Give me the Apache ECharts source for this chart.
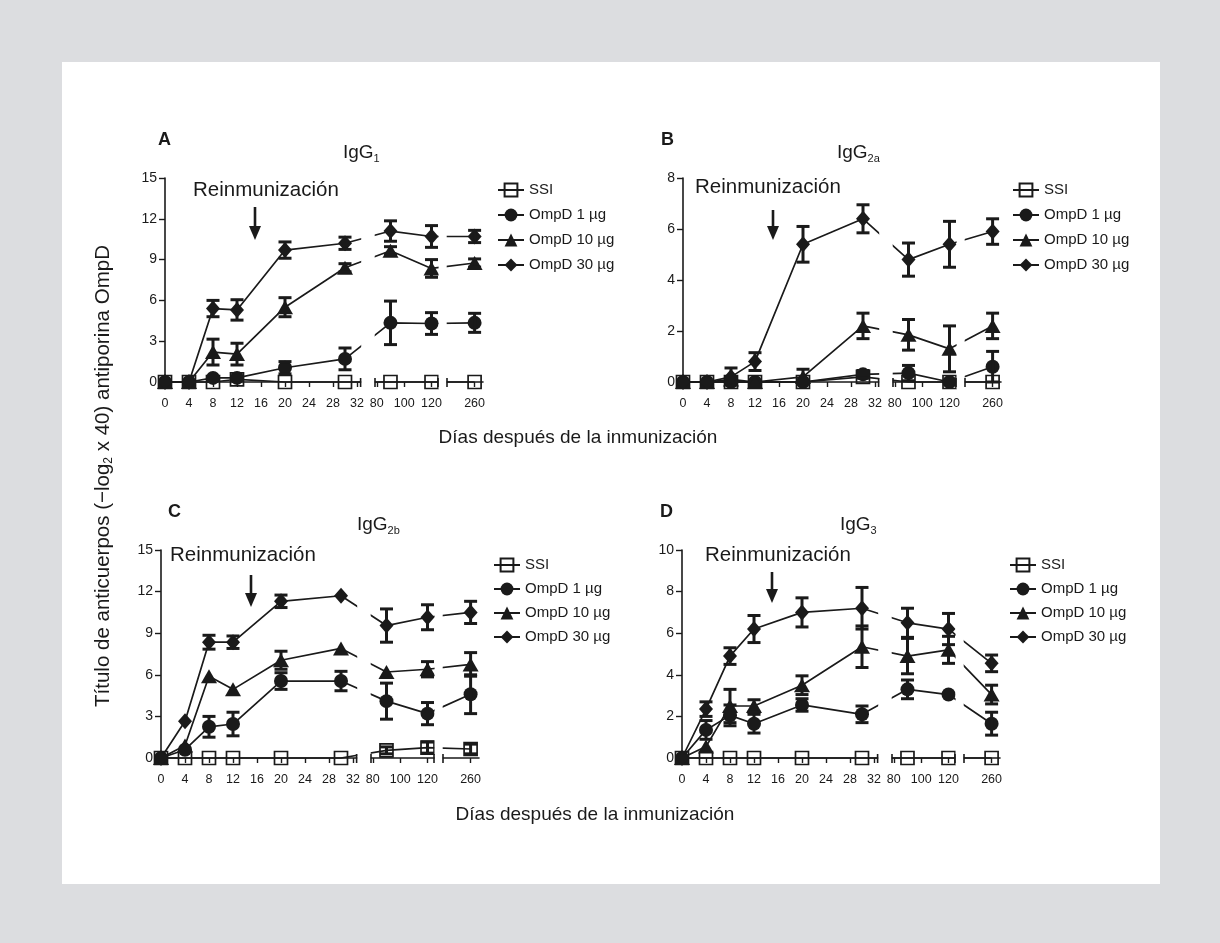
<!DOCTYPE html>
<html><head><meta charset="utf-8">
<script src="https://cdn.jsdelivr.net/npm/echarts@6/dist/echarts.min.js"></script>
<style>
html,body{margin:0;padding:0;background:#dcdde0;width:1220px;height:943px;overflow:hidden;}
#bg{position:absolute;left:62px;top:62px;width:1098px;height:822px;background:#fff;}
#c{position:absolute;left:0;top:0;width:1220px;height:943px;}
</style></head><body>
<div id="bg"></div><div id="c"></div>
<script>
// ---------- data ----------
const days = [0, 4, 8, 12, 20, 30, 90, 120, 260];
const xTickDays = [0, 4, 8, 12, 16, 20, 24, 28, 32, 80, 100, 120, 260];
const seriesNames = ['SSI', 'OmpD 1 µg', 'OmpD 10 µg', 'OmpD 30 µg'];
const yTicksA = [0, 3, 6, 9, 12, 15];
const yTicksB = [0, 2, 4, 6, 8];
const yTicksC = [0, 3, 6, 9, 12, 15];
const yTicksD = [0, 2, 4, 6, 8, 10];

// Panel A (IgG1)
const A_SSI = [0, 0, 0, 0.2, 0, 0, 0, 0, 0];
const A_SSI_err = [0, 0, 0, 0, 0, 0, 0, 0, 0];
const A_1 = [0, 0, 0.3, 0.3, 1.05, 1.7, 4.35, 4.3, 4.35];
const A_1_err = [0, 0, 0, 0, 0.45, 0.8, 1.6, 0.8, 0.7];
const A_10 = [0, 0, 2.2, 2.05, 5.5, 8.4, 9.65, 8.35, 8.75];
const A_10_err = [0, 0, 0.95, 0.8, 0.7, 0.3, 0.3, 0.65, 0.3];
const A_30 = [0, 0, 5.4, 5.3, 9.7, 10.2, 11.1, 10.7, 10.7];
const A_30_err = [0, 0, 0.6, 0.75, 0.6, 0.45, 0.75, 0.8, 0.45];

// Panel B (IgG2a)
const B_SSI = [0, 0, 0, 0, 0, 0.2, 0, 0, 0];
const B_SSI_err = [0, 0, 0, 0, 0, 0, 0, 0, 0];
const B_1 = [0, 0, 0, 0, 0, 0.3, 0.35, 0, 0.6];
const B_1_err = [0, 0, 0, 0, 0, 0.15, 0.3, 0, 0.6];
const B_10 = [0, 0, 0.1, 0, 0.2, 2.2, 1.85, 1.3, 2.2];
const B_10_err = [0, 0, 0, 0, 0.3, 0.5, 0.6, 0.9, 0.5];
const B_30 = [0, 0, 0.2, 0.8, 5.4, 6.4, 4.8, 5.4, 5.9];
const B_30_err = [0, 0, 0.35, 0.35, 0.7, 0.55, 0.65, 0.9, 0.5];

// Panel C (IgG2b)
const C_SSI = [0, 0, 0, 0, 0, 0, 0.55, 0.75, 0.65];
const C_SSI_err = [0, 0, 0, 0, 0, 0, 0.25, 0.4, 0.35];
const C_1 = [0, 0.6, 2.25, 2.45, 5.55, 5.55, 4.1, 3.2, 4.6];
const C_1_err = [0, 0, 0.75, 0.85, 0.6, 0.7, 1.3, 0.8, 1.4];
const C_10 = [0, 0.9, 5.9, 4.95, 7.05, 7.9, 6.2, 6.4, 6.75];
const C_10_err = [0, 0, 0, 0, 0.65, 0, 0, 0.55, 0.85];
const C_30 = [0, 2.65, 8.35, 8.35, 11.3, 11.7, 9.55, 10.15, 10.5];
const C_30_err = [0, 0, 0.5, 0.45, 0.45, 0, 1.2, 0.9, 0.8];

// Panel D (IgG3)
const D_SSI = [0, 0, 0, 0, 0, 0, 0, 0, 0];
const D_SSI_err = [0, 0, 0, 0, 0, 0, 0, 0, 0];
const D_1 = [0, 1.35, 2.05, 1.65, 2.55, 2.1, 3.3, 3.05, 1.65];
const D_1_err = [0, 0.45, 0.5, 0.45, 0.3, 0.4, 0.45, 0, 0.55];
const D_10 = [0, 0.55, 2.5, 2.5, 3.5, 5.35, 4.9, 5.2, 3.05];
const D_10_err = [0, 0, 0.8, 0.3, 0.45, 1.0, 0.85, 0.65, 0.45];
const D_30 = [0, 2.35, 4.9, 6.2, 7.0, 7.2, 6.5, 6.2, 4.55];
const D_30_err = [0, 0.35, 0.4, 0.65, 0.7, 1.0, 0.7, 0.75, 0.4];

// ---------- broken x-scale (0-32 | 80-120 | 260) ----------
function xm(d) {
  if (d <= 40) return d;
  if (d <= 150) return 35.3 + (d - 80) * 0.228;
  return 51.6 + (d - 260) * 0.1;
}
const X_MAX = 53;
const GAPS = [[32.7, 34.95], [45.6, 46.95]];
const CAPS = [32.6, 35.0, 45.5, 47.0];

const FONT = '"Liberation Sans", Arial, Helvetica, sans-serif';
const INK = '#1a1a1a';

const panels = [
  { letter: 'A', sub: '1', grid: { left: 165, top: 178, width: 318, height: 204 }, yTicks: yTicksA,
    vals: [A_SSI, A_1, A_10, A_30], errs: [A_SSI_err, A_1_err, A_10_err, A_30_err],
    letterPos: [153, 126], titlePos: [338, 137], legPos: [497, 182], legSpace: 25,
    reinPos: [193, 190], arrow: [29, 62] },
  { letter: 'B', sub: '2a', grid: { left: 683, top: 178, width: 318, height: 204 }, yTicks: yTicksB,
    vals: [B_SSI, B_1, B_10, B_30], errs: [B_SSI_err, B_1_err, B_10_err, B_30_err],
    letterPos: [656, 126], titlePos: [832, 137], legPos: [1012, 182], legSpace: 25,
    reinPos: [695, 187], arrow: [32, 62] },
  { letter: 'C', sub: '2b', grid: { left: 161, top: 550, width: 318, height: 208 }, yTicks: yTicksC,
    vals: [C_SSI, C_1, C_10, C_30], errs: [C_SSI_err, C_1_err, C_10_err, C_30_err],
    letterPos: [163, 498], titlePos: [352, 509], legPos: [493, 557], legSpace: 24,
    reinPos: [170, 555], arrow: [25, 57] },
  { letter: 'D', sub: '3', grid: { left: 682, top: 550, width: 318, height: 208 }, yTicks: yTicksD,
    vals: [D_SSI, D_1, D_10, D_30], errs: [D_SSI_err, D_1_err, D_10_err, D_30_err],
    letterPos: [655, 498], titlePos: [835, 509], legPos: [1009, 557], legSpace: 24,
    reinPos: [705, 555], arrow: [22, 53] }
];

const symbols = [
  { symbol: 'rect', size: 13, itemStyle: { color: 'transparent', borderColor: INK, borderWidth: 1.7 } },
  { symbol: 'circle', size: 14, itemStyle: { color: INK } },
  { symbol: 'triangle', size: [16, 14], itemStyle: { color: INK } },
  { symbol: 'diamond', size: [14, 16], itemStyle: { color: INK } }
];

function errRender(params, api) {
  const x = api.value(0), y = api.value(1), e = api.value(2);
  const t = api.coord([x, y + e]);
  const b = api.coord([x, Math.max(0, y - e)]);
  const hw = 6.5;
  const st = { stroke: INK, lineWidth: 3 };
  return { type: 'group', children: [
    { type: 'line', shape: { x1: t[0], y1: t[1], x2: b[0], y2: b[1] }, style: st },
    { type: 'line', shape: { x1: t[0] - hw, y1: t[1], x2: t[0] + hw, y2: t[1] }, style: st },
    { type: 'line', shape: { x1: b[0] - hw, y1: b[1], x2: b[0] + hw, y2: b[1] }, style: st }
  ] };
}

const grids = [], xAxes = [], yAxes = [], series = [], titles = [], legends = [];
const tickVals = xTickDays.map(xm);
panels.forEach((p, i) => {
  grids.push(p.grid);
  xAxes.push({
    type: 'value', gridIndex: i, min: 0, max: X_MAX,
    axisLine: { show: true, lineStyle: { color: INK, width: 1.6 } },
    axisTick: { show: true, inside: false, length: 5, customValues: tickVals, lineStyle: { color: INK, width: 1.4 } },
    axisLabel: { show: true, margin: 15, customValues: tickVals, fontSize: 12.5, color: INK, fontFamily: FONT,
      formatter: v => { const k = tickVals.findIndex(t => Math.abs(t - v) < 1e-6); return k >= 0 ? String(xTickDays[k]) : ''; } },
    splitLine: { show: false }
  });
  const yt = p.yTicks;
  yAxes.push({
    type: 'value', gridIndex: i, min: yt[0], max: yt[yt.length - 1], interval: yt[1] - yt[0],
    axisLine: { show: true, lineStyle: { color: INK, width: 1.6 } },
    axisTick: { show: true, inside: false, length: 6, lineStyle: { color: INK, width: 1.4 } },
    axisLabel: { margin: 8, fontSize: 14, color: INK, fontFamily: FONT },
    splitLine: { show: false }
  });
  p.vals.forEach((vals, s) => {
    const sym = symbols[s];
    series.push({
      name: seriesNames[s], type: 'line', xAxisIndex: i, yAxisIndex: i,
      data: days.map((d, j) => [xm(d), vals[j]]),
      symbol: sym.symbol, symbolSize: sym.size, showSymbol: true,
      itemStyle: sym.itemStyle, lineStyle: { color: INK, width: 1.7 },
      z: s === 0 ? 2 : 3, animation: false, clip: false
    });
    series.push({
      type: 'custom', xAxisIndex: i, yAxisIndex: i, renderItem: errRender, silent: true,
      data: days.map((d, j) => [xm(d), vals[j], p.errs[s][j]]).filter(r => r[2] > 0),
      encode: { x: 0, y: 1 }, z: 4, animation: false
    });
  });
  titles.push({ text: p.letter, left: p.letterPos[0], top: p.letterPos[1],
    textStyle: { fontSize: 18, fontWeight: 'bold', color: INK, fontFamily: FONT } });
  titles.push({ text: '{a|IgG}{s|' + p.sub + '}', left: p.titlePos[0], top: p.titlePos[1],
    textStyle: { fontFamily: FONT, fontWeight: 'normal', rich: {
      a: { fontSize: 19, color: INK, fontFamily: FONT, fontWeight: 'normal', lineHeight: 22 },
      s: { fontSize: 11, color: INK, fontFamily: FONT, fontWeight: 'normal', verticalAlign: 'bottom', lineHeight: 4 } } } });
  legends.push({
    data: seriesNames, orient: 'vertical', left: p.legPos[0], top: p.legPos[1], padding: 0,
    itemWidth: 26, itemHeight: 16, itemGap: p.legSpace - 16, selectedMode: false,
    textStyle: { fontSize: 15, color: INK, fontFamily: FONT, lineHeight: 16 }
  });
});

const chart = echarts.init(document.getElementById('c'), null, { renderer: 'canvas' });
chart.setOption({
  backgroundColor: 'transparent', animation: false,
  title: titles, legend: legends, grid: grids, xAxis: xAxes, yAxis: yAxes, series: series
});

// ---------- annotations: axis breaks, arrows, texts ----------
const g = [];
panels.forEach((p, i) => {
  const ymax = p.yTicks[p.yTicks.length - 1];
  GAPS.forEach(([a, b]) => {
    const p1 = chart.convertToPixel({ gridIndex: i }, [a, 0]);
    const p2 = chart.convertToPixel({ gridIndex: i }, [b, ymax]);
    g.push({ type: 'rect', z: 100, silent: true,
      shape: { x: p1[0], y: p2[1] - 2, width: p2[0] - p1[0], height: p1[1] + 7 - (p2[1] - 2) },
      style: { fill: '#fff' } });
  });
  CAPS.forEach(c => {
    const q = chart.convertToPixel({ gridIndex: i }, [c, 0]);
    g.push({ type: 'line', z: 101, silent: true, shape: { x1: q[0], y1: q[1] - 4, x2: q[0], y2: q[1] + 5 },
      style: { stroke: INK, lineWidth: 1.6 } });
  });
  const ax = chart.convertToPixel({ gridIndex: i }, [15, 0])[0];
  const top = p.grid.top + p.arrow[0], tip = p.grid.top + p.arrow[1];
  g.push({ type: 'line', z: 101, silent: true, shape: { x1: ax, y1: top, x2: ax, y2: tip - 12 },
    style: { stroke: INK, lineWidth: 2.6 } });
  g.push({ type: 'polygon', z: 101, silent: true, shape: { points: [[ax - 6, tip - 14], [ax + 6, tip - 14], [ax, tip]] },
    style: { fill: INK } });
  g.push({ type: 'text', z: 101, silent: true, x: p.reinPos[0], y: p.reinPos[1],
    style: { text: 'Reinmunización', fontSize: 20.5, fontFamily: FONT, fill: INK, verticalAlign: 'middle', align: 'left' } });
});
g.push({ type: 'text', z: 101, silent: true, x: 578, y: 438,
  style: { text: 'Días después de la inmunización', fontSize: 19, fontFamily: FONT, fill: INK, align: 'center', verticalAlign: 'middle' } });
g.push({ type: 'text', z: 101, silent: true, x: 595, y: 815,
  style: { text: 'Días después de la inmunización', fontSize: 19, fontFamily: FONT, fill: INK, align: 'center', verticalAlign: 'middle' } });
g.push({ type: 'text', z: 101, silent: true, x: 103, y: 476, rotation: Math.PI / 2,
  style: { text: '{a|Título de anticuerpos (−log}{s|2}{a| x 40) antiporina OmpD}', fontFamily: FONT, fill: INK,
    align: 'center', verticalAlign: 'middle',
    rich: { a: { fontSize: 20.5, fontFamily: FONT, fill: INK, lineHeight: 24 },
            s: { fontSize: 12, fontFamily: FONT, fill: INK, verticalAlign: 'bottom', lineHeight: 6 } } } });
chart.setOption({ graphic: { elements: g } });
</script>
</body></html>
